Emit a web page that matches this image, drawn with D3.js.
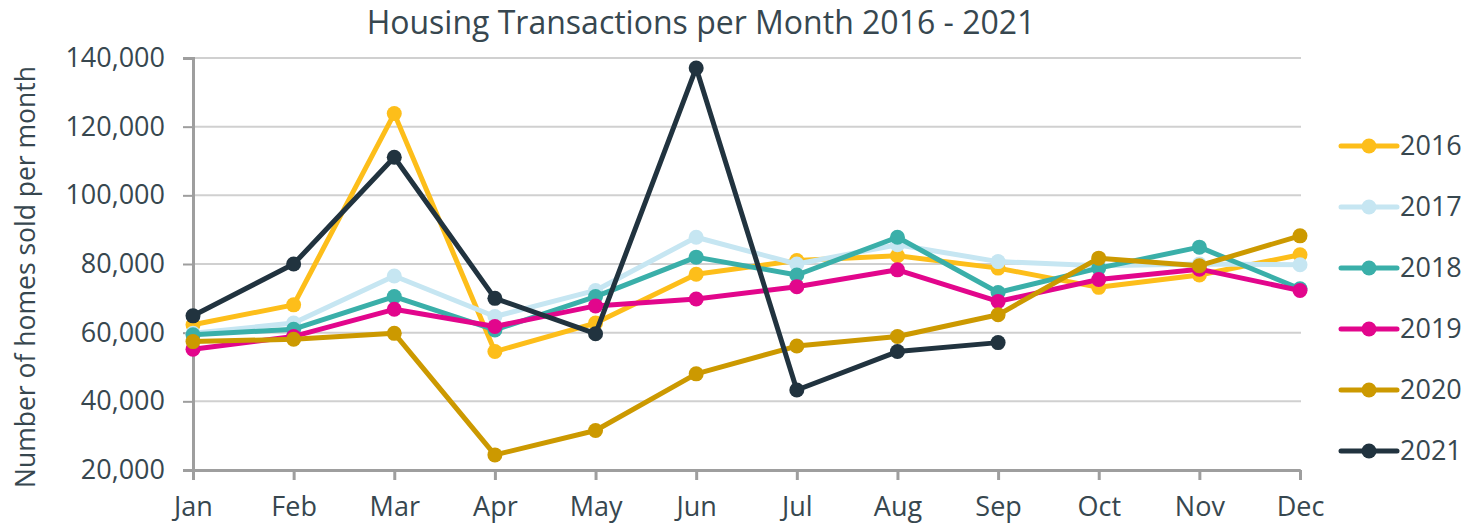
<!DOCTYPE html>
<html>
<head>
<meta charset="utf-8">
<script src="https://cdn.jsdelivr.net/npm/d3@7"></script>
<style>
  body { margin: 0; background: #fff; }
  text { font-family: "Open Sans", sans-serif; fill: #37474f; }
</style>
</head>
<body>
<div id="chart"></div>
<script>
var months = ["Jan", "Feb", "Mar", "Apr", "May", "Jun", "Jul", "Aug", "Sep", "Oct", "Nov", "Dec"];
var years = ["2016", "2017", "2018", "2019", "2020", "2021"];
var colors = ["#fdbe1a", "#c6e6f2", "#3aafa9", "#e2068c", "#cc9900", "#21333f"];
var yTicks = [20000, 40000, 60000, 80000, 100000, 120000, 140000];

var v2016 = [62300, 68100, 123800, 54500, 62800, 77000, 81000, 82400, 78800, 73200, 76800, 82700];
var v2017 = [59800, 62800, 76500, 64700, 72300, 87800, 80000, 85600, 80700, 79500, 80000, 79800];
var v2018 = [59400, 61000, 70500, 60800, 70500, 82000, 76800, 87800, 71700, 78800, 84900, 72800];
var v2019 = [55200, 58900, 66800, 61800, 67800, 69800, 73400, 78300, 69100, 75500, 78500, 72300];
var v2020 = [57400, 58100, 59800, 24400, 31500, 48000, 56100, 58900, 65200, 81700, 79500, 88200];
var v2021 = [64900, 80000, 111100, 70000, 59700, 137100, 43300, 54500, 57100];
var series = [v2016, v2017, v2018, v2019, v2020, v2021];

var width = 1477, height = 525;
var margin = {top: 58, right: 177, bottom: 55, left: 193};

var svg = d3.select("#chart")
    .append("svg")
        .attr("width", width)
        .attr("height", height);

var x = d3.scalePoint()
    .domain(months)
    .range([margin.left, width - margin.right]);

var y = d3.scaleLinear()
    .domain([20000, 140000])
    .range([height - margin.bottom, margin.top]);

// gridlines
svg.append("g")
    .selectAll("line")
    .data(yTicks)
    .enter()
    .append("line")
        .attr("x1", margin.left)
        .attr("x2", width - margin.right + 1)
        .attr("y1", function(d) { return y(d); })
        .attr("y2", function(d) { return y(d); })
        .attr("stroke", "#d0d0d0")
        .attr("stroke-width", 2);

var yAxis = svg.append("g")
    .attr("transform", "translate(" + margin.left + ",0)")
    .call(d3.axisLeft(y).tickValues(yTicks).tickSize(10).tickPadding(18).tickFormat(d3.format(",")));
yAxis.select(".domain").attr("stroke", "#9e9e9e").attr("stroke-width", 3);
yAxis.selectAll(".tick line").attr("stroke", "#9e9e9e").attr("stroke-width", 2);
yAxis.selectAll("text").style("font-size", "27px").attr("fill", "#37474f");

var xAxis = svg.append("g")
    .attr("transform", "translate(0," + (height - margin.bottom) + ")")
    .call(d3.axisBottom(x).tickSize(10).tickSizeOuter(0).tickPadding(17));
xAxis.select(".domain").attr("stroke", "#9e9e9e").attr("stroke-width", 3);
xAxis.selectAll(".tick line").attr("stroke", "#9e9e9e").attr("stroke-width", 3);
xAxis.selectAll("text").style("font-size", "27px").attr("fill", "#37474f");

svg.append("text")
    .attr("x", 701)
    .attr("y", 34)
    .attr("text-anchor", "middle")
    .style("font-size", "32px")
    .text("Housing Transactions per Month 2016 - 2021");

svg.append("text")
    .attr("transform", "translate(35," + 277 + ") rotate(-90)")
    .attr("text-anchor", "middle")
    .style("font-size", "26.5px")
    .text("Number of homes sold per month");

var line = d3.line()
    .x(function(d, i) { return x(months[i]); })
    .y(function(d) { return y(d); });

series.forEach(function(vals, k) {
    var g = svg.append("g");
    g.append("path")
        .datum(vals)
        .attr("d", line)
        .attr("fill", "none")
        .attr("stroke", colors[k])
        .attr("stroke-width", 5)
        .attr("stroke-linejoin", "round");
    g.selectAll("circle")
        .data(vals)
        .enter()
        .append("circle")
            .attr("cx", function(d, i) { return x(months[i]); })
            .attr("cy", function(d) { return y(d); })
            .attr("r", 7.5)
            .attr("fill", colors[k]);
});

// legend
var legend = svg.append("g")
    .selectAll("g")
    .data(years)
    .enter()
    .append("g")
        .attr("transform", function(d, i) { return "translate(1341," + (146 + i * 61) + ")"; });
legend.append("line")
    .attr("x1", 0).attr("x2", 56)
    .attr("stroke", function(d, i) { return colors[i]; })
    .attr("stroke-width", 5)
    .attr("stroke-linecap", "round");
legend.append("circle")
    .attr("cx", 28)
    .attr("r", 7.5)
    .attr("fill", function(d, i) { return colors[i]; });
legend.append("text")
    .attr("x", 59)
    .attr("dy", "0.35em")
    .style("font-size", "27px")
    .text(function(d) { return d; });
</script>
</body>
</html>
